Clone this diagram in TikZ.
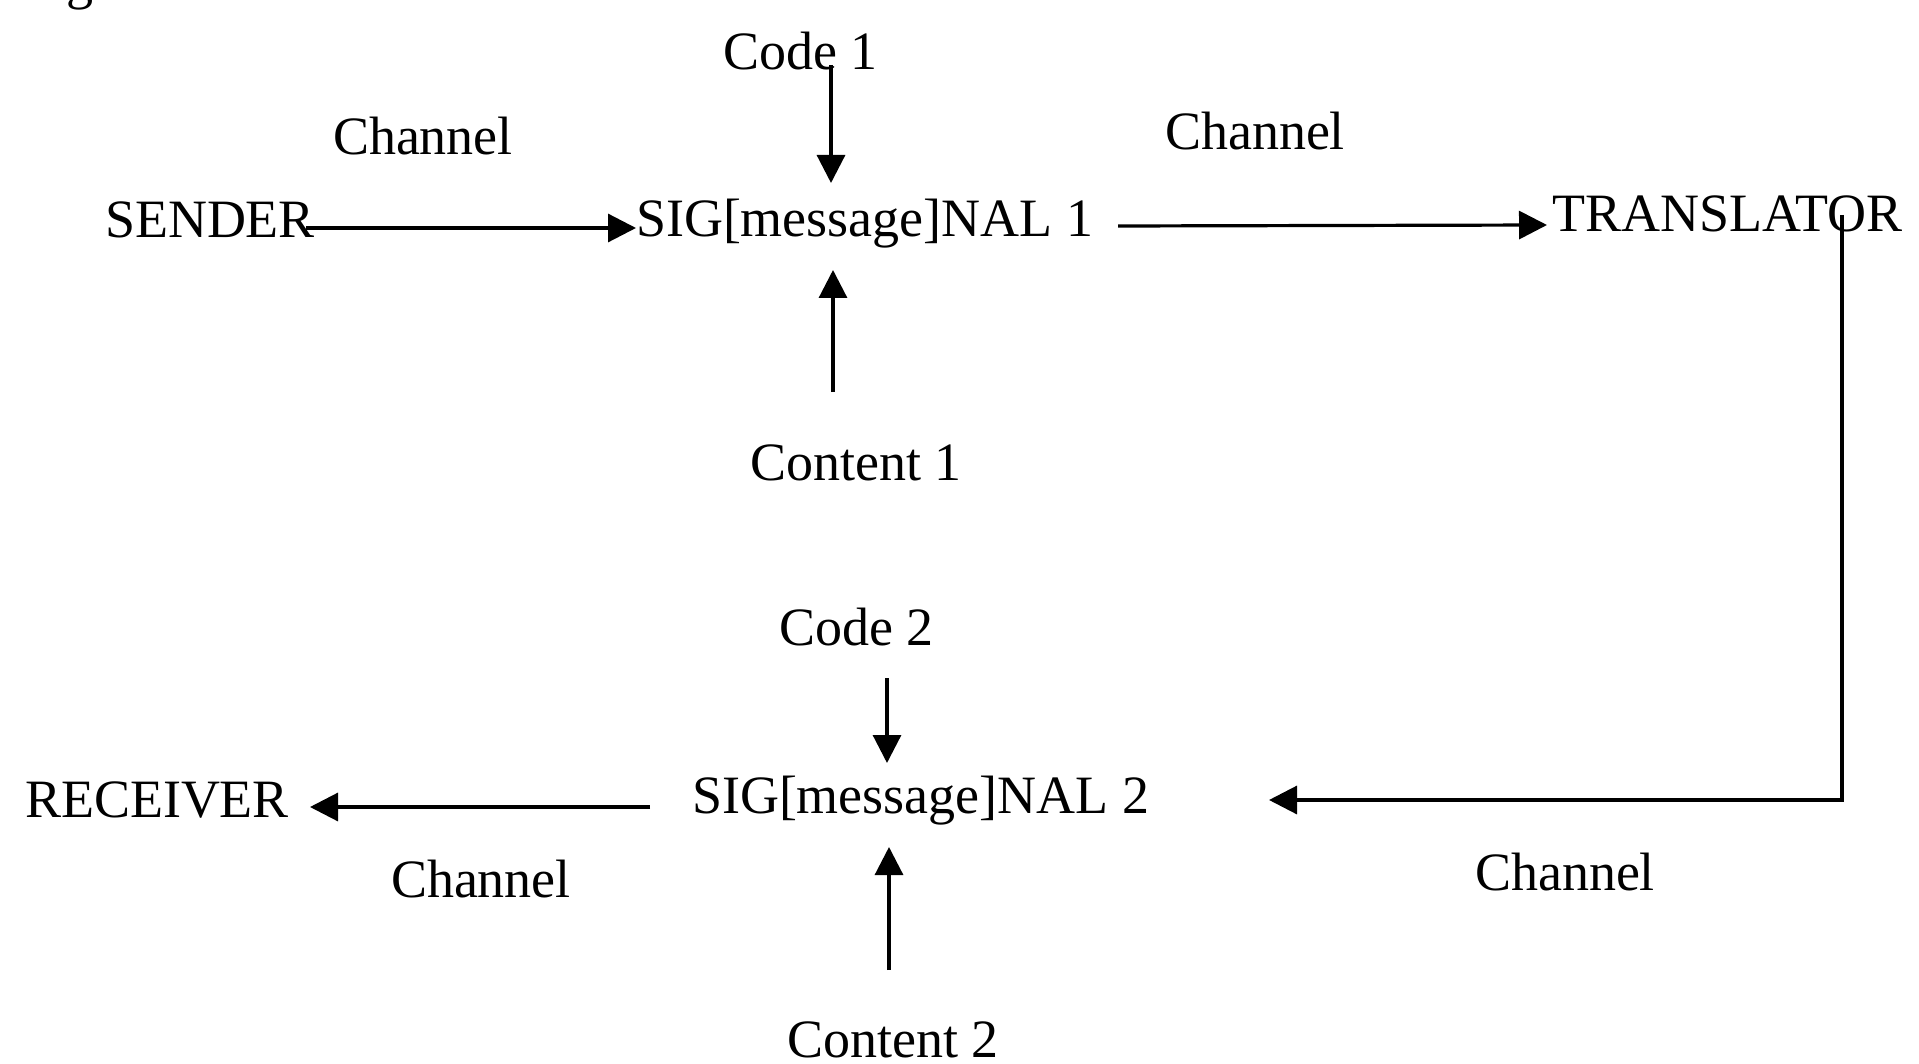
\documentclass[tikz,border=0pt]{standalone}
\usepackage{fontspec}
\setmainfont{Liberation Serif}
\usetikzlibrary{arrows.meta}
\tikzset{
  lbl/.style={anchor=base west, inner sep=0pt, outer sep=0pt, font=\fontsize{54}{60}\selectfont},
  arr/.style={line width=3.2pt, line join=miter, -{Triangle[length=28pt,width=28pt]}},
}
\begin{document}
\begin{tikzpicture}[x=1pt,y=-1pt]
\useasboundingbox (0,0) rectangle (1919,1064);
\fill[white] (0,0) rectangle (1919,1064);
\clip (0,0) rectangle (1919,1064);

% labels
\node[lbl] (frag)   at (66,-1)    {g};
\node[lbl] (sender) at (105,238)  {SENDER};
\node[lbl] (ch1)    at (333,155)  {Channel};
\node[lbl] (code1)  at (723,70)   {Code 1};
\node[lbl] (sig1)   at (636,237)  {SIG[message]NAL 1};
\node[lbl] (cont1)  at (750,480)  {Content 1};
\node[lbl] (ch2)    at (1165,150) {Channel};
\node[lbl] (trans)  at (1552,232) {TRANSLATOR};
\node[lbl] (code2)  at (779,645)  {Code 2};
\node[lbl] (sig2)   at (692,813)  {SIG[message]NAL 2};
\node[lbl] (cont2)  at (787,1057) {Content 2};
\node[lbl] (recv)   at (25,817)   {RECEIVER};
\node[lbl] (ch3)    at (391,897)  {Channel};
\node[lbl] (ch4)    at (1475,890) {Channel};

% connectors
\draw[arr] ([shift={(201pt,10pt)}]sender.base west) -- ([shift={(0pt,9pt)}]sig1.base west);
\draw[arr] ([shift={(108pt,5pt)}]code1.base west) -- ([shift={(195pt,54pt)}]sig1.base west);
\draw[arr] ([shift={(83pt,88pt)}]cont1.base west) -- ([shift={(197pt,-33pt)}]sig1.base west);
\draw[arr] ([shift={(482pt,11pt)}]sig1.base west) -- ([shift={(-5pt,7pt)}]trans.base west);
\draw[arr] ([shift={(290pt,17pt)}]trans.base west) |- ([shift={(577pt,13pt)}]sig2.base west);
\draw[arr] ([shift={(-42pt,6pt)}]sig2.base west) -- ([shift={(285pt,10pt)}]recv.base west);
\draw[arr] ([shift={(108pt,-33pt)}]code2.base west) -- ([shift={(195pt,50pt)}]sig2.base west);
\draw[arr] ([shift={(102pt,87pt)}]cont2.base west) -- ([shift={(197pt,-34pt)}]sig2.base west);
\end{tikzpicture}
\end{document}
